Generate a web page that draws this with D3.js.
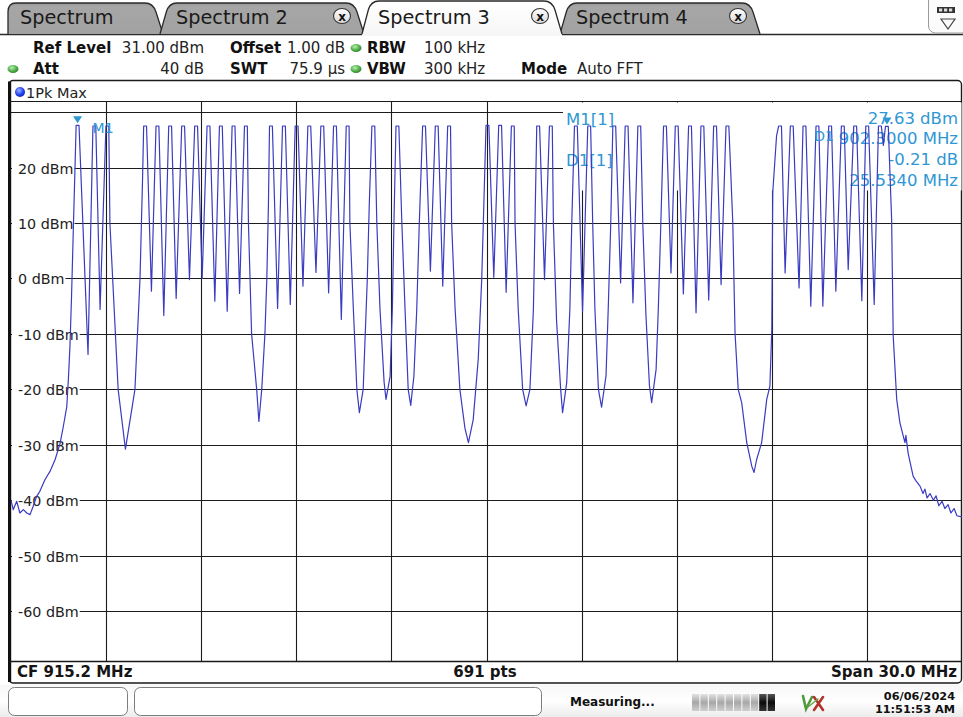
<!DOCTYPE html>
<html>
<head>
<meta charset="utf-8">
<script src="https://cdn.jsdelivr.net/npm/d3@7"></script>
<style>
  html, body { margin: 0; padding: 0; background: #fff; }
  svg { display: block; font-family: "DejaVu Sans", Verdana, sans-serif; }
</style>
</head>
<body>
<script>
// ---------------- instrument settings ----------------
const centerMHz = 915.2;
const spanMHz = 30.0;
const sweepPoints = 691;
const refLevelDbm = 31;
const displayRangeDb = 100;

const tabNames = ["Spectrum", "Spectrum 2", "Spectrum 3", "Spectrum 4"];
const tabClosable = [false, true, true, true];
const activeTab = 2;

const headerRow1 = [["Ref Level", "31.00 dBm"], ["Offset", "1.00 dB"], ["RBW", "100 kHz"]];
const headerRow2 = [["Att", "40 dB"], ["SWT", "75.9 µs"], ["VBW", "300 kHz"], ["Mode", "Auto FFT"]];
const traceName = "1Pk Max";

// grid levels (dBm) and the labelled ones
const gridLevels = [30, 20, 10, 0, -10, -20, -30, -40, -50, -60];
const labelLevels = [20, 10, 0, -10, -20, -30, -40, -50, -60];
const labelTexts = ["20 dBm", "10 dBm", "0 dBm", "-10 dBm", "-20 dBm", "-30 dBm", "-40 dBm", "-50 dBm", "-60 dBm"];

// ---------------- trace: peak-hold of hopping channels ----------------
// channel peak frequencies (MHz) and peak levels (dBm)
const channelMHz = [
  902.30, 902.83, 903.24,
  904.43, 904.82, 905.22, 905.63, 906.04, 906.43, 906.82, 907.22, 907.61,
  908.40, 908.81, 909.21, 909.61, 910.02, 910.42, 910.82,
  911.63, 912.39,
  913.23, 913.63, 914.02,
  915.23, 915.63, 916.03,
  916.83, 917.23,
  918.02, 918.44,
  919.23, 919.62, 920.02,
  920.83, 921.20, 921.62, 922.01, 922.41, 922.80,
  924.46, 924.83, 925.23, 925.64, 926.04, 926.44, 926.83, 927.21, 927.61, 927.83
];
const channelDbm = [
  27.63, 27.5, 27.5,
  27.5, 27.5, 27.5, 27.5, 27.5, 27.5, 27.5, 27.5, 27.5,
  27.5, 27.5, 27.5, 27.5, 27.5, 27.5, 27.5,
  27.5, 27.5,
  27.5, 27.5, 27.5,
  27.6, 27.6, 27.5,
  27.5, 27.5,
  27.5, 27.5,
  27.5, 27.5, 27.5,
  27.5, 27.5, 27.5, 27.5, 27.5, 27.5,
  27.5, 27.5, 27.5, 27.5, 27.5, 27.5, 27.5, 27.5, 27.5, 27.42
];
// trace between consecutive channel peaks: [MHz, dBm] vertices
const gapProfiles = [
  [[902.63, -13.7]],
  [[903.01, -5.6]],
  [[903.32, 10], [903.58, -20], [903.81, -30.8], [904.11, -20], [904.27, 0], [904.35, 18]],
  [[904.63, -2.3]],
  [[905.02, -6.7]],
  [[905.41, -3.6]],
  [[905.83, -0.2]],
  [[906.23, 0.0]],
  [[906.63, -4.1]],
  [[907.02, -5.9]],
  [[907.41, -2.7]],
  [[907.69, 10], [907.79, -10], [907.95, -20], [908.02, -25.8], [908.11, -20], [908.21, -10], [908.27, 0], [908.32, 13]],
  [[908.61, -5.4]],
  [[909.01, -4.7]],
  [[909.41, -1.4]],
  [[909.82, 1.1]],
  [[910.22, -2.6]],
  [[910.62, -7.4]],
  [[910.89, 10], [911.00, -5.5], [911.11, -20], [911.19, -24.2], [911.31, -20], [911.44, 0], [911.50, 13]],
  [[911.74, 10], [911.84, -5.5], [911.97, -18.7], [912.03, -21.8], [912.16, -17.6], [912.23, -5.5], [912.28, 10]],
  [[912.53, 10], [912.63, -5.5], [912.73, -20], [912.81, -22.9], [912.91, -17.6], [913.00, -5.5], [913.08, 10]],
  [[913.43, 1.3]],
  [[913.82, -1.4]],
  [[914.10, 10], [914.21, -5.5], [914.36, -20], [914.52, -27], [914.63, -29.6], [914.78, -25.5], [914.94, -14.5], [915.05, 0], [915.10, 10]],
  [[915.43, 0.2]],
  [[915.82, -2.5]],
  [[916.10, 10], [916.20, -5.5], [916.34, -20], [916.45, -23], [916.57, -20], [916.68, -5.5], [916.73, 10]],
  [[917.03, -0.2]],
  [[917.31, 10], [917.41, -7.6], [917.54, -20], [917.60, -24.2], [917.73, -18.8], [917.83, -5.5], [917.89, 10]],
  [[918.23, -6.0]],
  [[918.55, 10], [918.62, -5.5], [918.73, -20], [918.83, -23.2], [918.97, -17.6], [919.04, -5.5], [919.12, 10]],
  [[919.43, -0.8]],
  [[919.82, -4.4]],
  [[920.13, 10], [920.23, -6.6], [920.34, -19.3], [920.41, -22.4], [920.55, -16.4], [920.62, -5.5], [920.70, 10]],
  [[921.02, 1.0]],
  [[921.41, -2.8]],
  [[921.81, -6.2]],
  [[922.21, -3.9]],
  [[922.60, -1.1]],
  [[922.97, 10], [923.04, -9.8], [923.14, -20], [923.25, -22.4], [923.41, -29.6], [923.57, -33.9], [923.64, -35],
   [923.72, -32.7], [923.88, -29.6], [924.04, -21.8], [924.14, -19.4], [924.20, -9.2], [924.23, 15.5], [924.35, 25.7]],
  [[924.62, 1.0]],
  [[925.06, -1.7]],
  [[925.43, -5.0]],
  [[925.81, -5.0]],
  [[926.22, -2.3]],
  [[926.61, 1.6]],
  [[927.04, -4.0]],
  [[927.43, -4.7]],
  [[927.72, 24.0]]
];
// noise floor and skirt below the first channel
const lowerSkirt = [
  [900.20, -40.0], [900.27, -41.7], [900.38, -40.2], [900.48, -42.3], [900.59, -41.7], [900.70, -42.3],
  [900.80, -42.6], [900.90, -41.1], [901.01, -39.3], [901.11, -38.4], [901.27, -36.3], [901.43, -34.8],
  [901.59, -32.7], [901.75, -29.7], [901.85, -26.7], [901.96, -23.1], [902.01, -18.2], [902.06, -12.2],
  [902.11, -3.2], [902.22, 20.3]
];
// skirt and noise floor above the last channel
const upperSkirt = [
  [927.98, 10.6], [928.03, -10.4], [928.14, -21.8], [928.24, -26.0], [928.40, -29.6], [928.43, -28.3],
  [928.50, -31.5], [928.66, -35.7], [928.75, -36.5], [928.88, -37.5], [928.97, -38.8], [929.03, -38.0],
  [929.10, -39.6], [929.19, -38.8], [929.30, -40.0], [929.38, -39.2], [929.47, -41.0], [929.57, -40.2],
  [929.66, -41.5], [929.76, -40.8], [929.85, -42.3], [929.95, -41.5], [930.04, -42.8], [930.20, -43.0]
];

// markers
const markerM1 = { name: "M1", mhz: 902.30, dbm: 27.63 };
const markerD1 = { name: "D1", deltaMhz: 25.534, deltaDb: -0.21 };

// status line
const statusText = "Measuring...";
const dateText = "06/06/2024";
const timeText = "11:51:53 AM";

// ---------------- drawing ----------------
const W = 963, H = 717;
const markerColor = "#2f97d4";
const traceColor = "#3b3bc2";
const gridColor = "#1c1c1c";

const svg = d3.select("body").append("svg").attr("width", W).attr("height", H);
const defs = svg.append("defs");

function vGrad(id, stops) {
  const g = defs.append("linearGradient").attr("id", id).attr("x1", 0).attr("y1", 0).attr("x2", 0).attr("y2", 1);
  stops.forEach(([o, c]) => g.append("stop").attr("offset", o).attr("stop-color", c));
}
vGrad("tabOff", [[0, "#979797"], [0.12, "#a6a6a6"], [1, "#a2a2a2"]]);
vGrad("tabOn", [[0, "#ffffff"], [1, "#f6f6f6"]]);
vGrad("closeBtn", [[0, "#ffffff"], [1, "#d8d8d8"]]);
vGrad("statusBg", [[0, "#f7f7f7"], [0.5, "#ffffff"], [1, "#ececec"]]);
vGrad("segLight", [[0, "#e2e2e2"], [0.5, "#a8a8a8"], [1, "#cfcfcf"]]);
vGrad("segDark", [[0, "#555"], [0.5, "#0c0c0c"], [1, "#333"]]);
const rg = defs.append("radialGradient").attr("id", "ledGreen").attr("cx", 0.4).attr("cy", 0.35).attr("r", 0.7);
rg.append("stop").attr("offset", 0).attr("stop-color", "#b8f0b0");
rg.append("stop").attr("offset", 0.6).attr("stop-color", "#4fae48");
rg.append("stop").attr("offset", 1).attr("stop-color", "#2f7d2a");
const rb = defs.append("radialGradient").attr("id", "ledBlue").attr("cx", 0.4).attr("cy", 0.35).attr("r", 0.7);
rb.append("stop").attr("offset", 0).attr("stop-color", "#9fb4ff");
rb.append("stop").attr("offset", 0.6).attr("stop-color", "#2346f0");
rb.append("stop").attr("offset", 1).attr("stop-color", "#0d1fa8");

svg.append("rect").attr("width", W).attr("height", H).attr("fill", "#fff");

// ---- tabs ----
const tabEdges = [[8, 163], [160, 364], [362, 562], [560, 760]];
const tabBottom = 34;
function tabOutline(l, r, top, flatLeft) {
  const sl = flatLeft ? 0 : 9, sr = 10;
  return `M${l},${tabBottom} L${l + sl * 0.7},${top + 9} Q${l + sl},${top} ${l + sl + 8},${top}` +
         ` L${r - sr - 8},${top} Q${r - sr},${top} ${r - sr * 0.7},${top + 9} L${r},${tabBottom}`;
}
svg.append("line").attr("x1", 0).attr("x2", W).attr("y1", tabBottom + 0.5).attr("y2", tabBottom + 0.5)
  .attr("stroke", "#2a2a2a").attr("stroke-width", 1.3);

const tabOrder = d3.range(tabNames.length).filter(i => i !== activeTab).concat([activeTab]);
tabOrder.forEach(i => {
  const [l, r] = tabEdges[i];
  const on = i === activeTab;
  const top = on ? 1 : 3;
  const d = tabOutline(l, r, top, i === 0);
  const g = svg.append("g");
  g.append("path").attr("d", d + (on ? ` L${r},${tabBottom + 2} L${l},${tabBottom + 2} Z` : " Z"))
    .attr("fill", on ? "url(#tabOn)" : "url(#tabOff)").attr("stroke", "none");
  g.append("path").attr("d", d).attr("fill", "none").attr("stroke", "#2a2a2a").attr("stroke-width", 1.3);
  g.append("text").attr("x", l + (i === 0 ? 12 : 16)).attr("y", 24)
    .attr("font-size", 19.3).attr("fill", "#1a1a1a").text(tabNames[i]);
  if (tabClosable[i]) {
    const cx = r - 22, cy = 16;
    g.append("ellipse").attr("cx", cx).attr("cy", cy).attr("rx", 8.5).attr("ry", 7.5)
      .attr("fill", "url(#closeBtn)").attr("stroke", "#333").attr("stroke-width", 1.1);
    g.append("text").attr("x", cx).attr("y", cy + 4.5).attr("text-anchor", "middle")
      .attr("font-size", 12).attr("font-weight", "bold").attr("fill", "#111").text("x");
  }
});

// top-right toolbar button
const tb = svg.append("g");
tb.append("rect").attr("x", 928.5).attr("y", -6).attr("width", 40).attr("height", 39).attr("rx", 7)
  .attr("fill", "#fbfbfb").attr("stroke", "#9a9a9a");
tb.append("rect").attr("x", 937).attr("y", 7).attr("width", 18).attr("height", 6).attr("fill", "#333");
[939, 944, 949].forEach(px => tb.append("rect").attr("x", px).attr("y", 8.5).attr("width", 3.2).attr("height", 3).attr("fill", "#ddd"));
tb.append("path").attr("d", "M941,19 L955,19 L948,29 Z").attr("fill", "none").attr("stroke", "#444").attr("stroke-width", 1.2);

// ---- settings header ----
function led(cx, cy) {
  svg.append("ellipse").attr("cx", cx).attr("cy", cy).attr("rx", 5.5).attr("ry", 4)
    .attr("fill", "url(#ledGreen)");
}
const hdrFont = 15;
const row1y = 53, row2y = 74;
function hdrLabel(x, yb, t) {
  svg.append("text").attr("x", x).attr("y", yb).attr("font-size", hdrFont).attr("font-weight", "bold")
    .attr("fill", "#111").text(t);
}
function hdrValue(x, yb, t, anchor) {
  svg.append("text").attr("x", x).attr("y", yb).attr("font-size", hdrFont).attr("fill", "#222")
    .attr("text-anchor", anchor || "start").text(t);
}
hdrLabel(33, row1y, headerRow1[0][0]); hdrValue(204, row1y, headerRow1[0][1], "end");
hdrLabel(230, row1y, headerRow1[1][0]); hdrValue(345, row1y, headerRow1[1][1], "end");
led(356, row1y - 5);
hdrLabel(367, row1y, headerRow1[2][0]); hdrValue(424, row1y, headerRow1[2][1]);
led(13, row2y - 5);
hdrLabel(33, row2y, headerRow2[0][0]); hdrValue(204, row2y, headerRow2[0][1], "end");
hdrLabel(230, row2y, headerRow2[1][0]); hdrValue(345, row2y, headerRow2[1][1], "end");
led(356, row2y - 5);
hdrLabel(367, row2y, headerRow2[2][0]); hdrValue(424, row2y, headerRow2[2][1]);
hdrLabel(521, row2y, headerRow2[3][0]); hdrValue(577, row2y, headerRow2[3][1]);

// ---- diagram panel ----
const panelTop = 80.5, panelBottom = 683;
const titleBottom = 101.5;
const x = d3.scaleLinear()
  .domain([centerMHz - spanMHz / 2, centerMHz + spanMHz / 2])
  .range([11, 962]);
const y = d3.scaleLinear()
  .domain([refLevelDbm - displayRangeDb, refLevelDbm])
  .range([661, 106.6]);
const gridL = x.range()[0], gridR = x.range()[1], gridB = y.range()[0];

svg.append("rect").attr("x", 9).attr("y", panelTop).attr("width", 952.5).attr("height", panelBottom - panelTop)
  .attr("rx", 4).attr("fill", "#fff").attr("stroke", "#1a1a1a").attr("stroke-width", 1.4);
svg.append("rect").attr("x", 8).attr("y", panelTop + 1).attr("width", 3.2).attr("height", panelBottom - panelTop - 2)
  .attr("fill", "#111");

// trace title bar
svg.append("line").attr("x1", 9).attr("x2", gridR).attr("y1", titleBottom).attr("y2", titleBottom)
  .attr("stroke", "#1a1a1a").attr("stroke-width", 1.2);
svg.append("circle").attr("cx", 20).attr("cy", 92).attr("r", 5).attr("fill", "url(#ledBlue)");
svg.append("text").attr("x", 26).attr("y", 97.5).attr("font-size", 14.5).attr("fill", "#222").text(traceName);

// grid
const grid = svg.append("g").attr("stroke", gridColor).attr("stroke-width", 1.1);
const vDivs = d3.range(1, 10).map(k => x.domain()[0] + k * spanMHz / 10);
grid.selectAll("line.v").data(vDivs).join("line")
  .attr("x1", d => Math.round(x(d)) + 0.5).attr("x2", d => Math.round(x(d)) + 0.5)
  .attr("y1", titleBottom).attr("y2", gridB);
grid.selectAll("line.h").data(gridLevels).join("line")
  .attr("x1", gridL).attr("x2", gridR)
  .attr("y1", d => Math.round(y(d)) + 0.5).attr("y2", d => Math.round(y(d)) + 0.5);
svg.append("line").attr("x1", 9).attr("x2", gridR).attr("y1", gridB + 0.5).attr("y2", gridB + 0.5)
  .attr("stroke", "#1a1a1a").attr("stroke-width", 1.3);

// marker readout area (covers the grid)
svg.append("rect").attr("x", 563).attr("y", titleBottom + 1).attr("width", gridR - 563 - 0.5).attr("height", 88)
  .attr("fill", "#fff");

// level labels with white backing
const lblG = svg.append("g");
labelLevels.forEach((lv, i) => {
  const yy = Math.round(y(lv)) + 0.5;
  const bg = lblG.append("rect").attr("fill", "#fff");
  const t = lblG.append("text").attr("x", 18).attr("y", yy + 5).attr("font-size", 14.3)
    .attr("fill", "#222").text(labelTexts[i]);
  const w = t.node().getComputedTextLength();
  bg.attr("x", 12).attr("y", yy - 7).attr("width", 18 + w - 12 + 1).attr("height", 14);
});

// marker readout texts
const fixed = (v, n) => v.toFixed(n); // plain hyphen-minus, as the instrument prints it
const mk = svg.append("g").attr("fill", markerColor).attr("font-size", 16.5);
mk.append("text").attr("x", 566).attr("y", 125).text(`${markerM1.name}[1]`);
mk.append("text").attr("x", 566).attr("y", 166).text(`${markerD1.name}[1]`);
mk.append("text").attr("x", 958).attr("y", 124).attr("text-anchor", "end").text(`${fixed(markerM1.dbm, 2)} dBm`);
mk.append("text").attr("x", 958).attr("y", 144).attr("text-anchor", "end").text(`${fixed(markerM1.mhz, 4)} MHz`);
mk.append("text").attr("x", 958).attr("y", 165).attr("text-anchor", "end").text(`${fixed(markerD1.deltaDb, 2)} dB`);
mk.append("text").attr("x", 958).attr("y", 186).attr("text-anchor", "end").text(`${fixed(markerD1.deltaMhz, 4)} MHz`);

// trace
const topHalfWidth = 0.045; // MHz, flat part of each channel top
const vertices = lowerSkirt.slice();
channelMHz.forEach((f, i) => {
  vertices.push([f - topHalfWidth, channelDbm[i]], [f + topHalfWidth, channelDbm[i]]);
  if (i < gapProfiles.length) gapProfiles[i].forEach(p => vertices.push(p));
});
upperSkirt.forEach(p => vertices.push(p));

defs.append("clipPath").attr("id", "plotClip").append("rect")
  .attr("x", gridL).attr("y", titleBottom).attr("width", gridR - gridL).attr("height", gridB - titleBottom);
const line = d3.line().x(d => x(d[0])).y(d => y(d[1]));
svg.append("path").datum(vertices).attr("d", line).attr("clip-path", "url(#plotClip)")
  .attr("fill", "none").attr("stroke", traceColor).attr("stroke-width", 1.2).attr("stroke-linejoin", "round");

// marker symbols
function markerTri(mhz, dbm) {
  const mx = x(mhz), my = y(dbm) - 2;
  svg.append("path").attr("d", `M${mx - 4.5},${my - 7} L${mx + 4.5},${my - 7} L${mx},${my} Z`).attr("fill", markerColor);
  return [mx, my];
}
const [m1x, m1y] = markerTri(markerM1.mhz, markerM1.dbm);
svg.append("text").attr("x", m1x + 15).attr("y", m1y + 10).attr("font-size", 14).attr("fill", markerColor).text(markerM1.name);
const d1Mhz = markerM1.mhz + markerD1.deltaMhz, d1Dbm = markerM1.dbm + markerD1.deltaDb;
const [d1x, d1y] = markerTri(d1Mhz, d1Dbm);
// delta marker tag sits left of the readout column
svg.append("text").attr("x", 834).attr("y", d1y + 17).attr("text-anchor", "end").attr("font-size", 14)
  .attr("fill", markerColor).text(markerD1.name);

// bottom info bar
const barG = svg.append("g").attr("font-size", 15).attr("font-weight", "bold").attr("fill", "#151515");
barG.append("text").attr("x", 17).attr("y", 677).text(`CF ${centerMHz.toFixed(1)} MHz`);
barG.append("text").attr("x", 485).attr("y", 677).attr("text-anchor", "middle").text(`${sweepPoints} pts`);
barG.append("text").attr("x", 957).attr("y", 677).attr("text-anchor", "end").text(`Span ${spanMHz.toFixed(1)} MHz`);

// ---- status line ----
svg.append("rect").attr("x", 0).attr("y", panelBottom + 1.5).attr("width", W).attr("height", H - panelBottom - 1.5)
  .attr("fill", "url(#statusBg)");
svg.append("rect").attr("x", 8.5).attr("y", 687.5).attr("width", 119).attr("height", 28).attr("rx", 6)
  .attr("fill", "#fff").attr("stroke", "#7d7d7d");
svg.append("rect").attr("x", 134.5).attr("y", 687.5).attr("width", 407).attr("height", 28).attr("rx", 6)
  .attr("fill", "#fff").attr("stroke", "#7d7d7d");
svg.append("text").attr("x", 570).attr("y", 706).attr("font-size", 12).attr("font-weight", "bold")
  .attr("fill", "#111").text(statusText);
d3.range(10).forEach(k => {
  svg.append("rect").attr("x", 692 + k * 8.4).attr("y", 694).attr("width", 7.4).attr("height", 17)
    .attr("fill", k >= 8 ? "url(#segDark)" : "url(#segLight)");
});
const ic = svg.append("g").attr("fill", "none").attr("stroke-width", 2.6).attr("stroke-linecap", "round");
ic.append("path").attr("d", "M803,696 L806,709 L812,697").attr("stroke", "#4f9a3a");
ic.append("path").attr("d", "M814,697 L823,710 M823,697 L814,710").attr("stroke", "#b3332b");
ic.append("path").attr("d", "M808,707 L818,699").attr("stroke", "#6fa84f").attr("stroke-width", 1.6);
svg.append("text").attr("x", 955).attr("y", 700).attr("text-anchor", "end").attr("font-size", 11.3)
  .attr("font-weight", "bold").attr("fill", "#111").text(dateText);
svg.append("text").attr("x", 955).attr("y", 713).attr("text-anchor", "end").attr("font-size", 11.3)
  .attr("font-weight", "bold").attr("fill", "#111").text(timeText);
</script>
</body>
</html>
